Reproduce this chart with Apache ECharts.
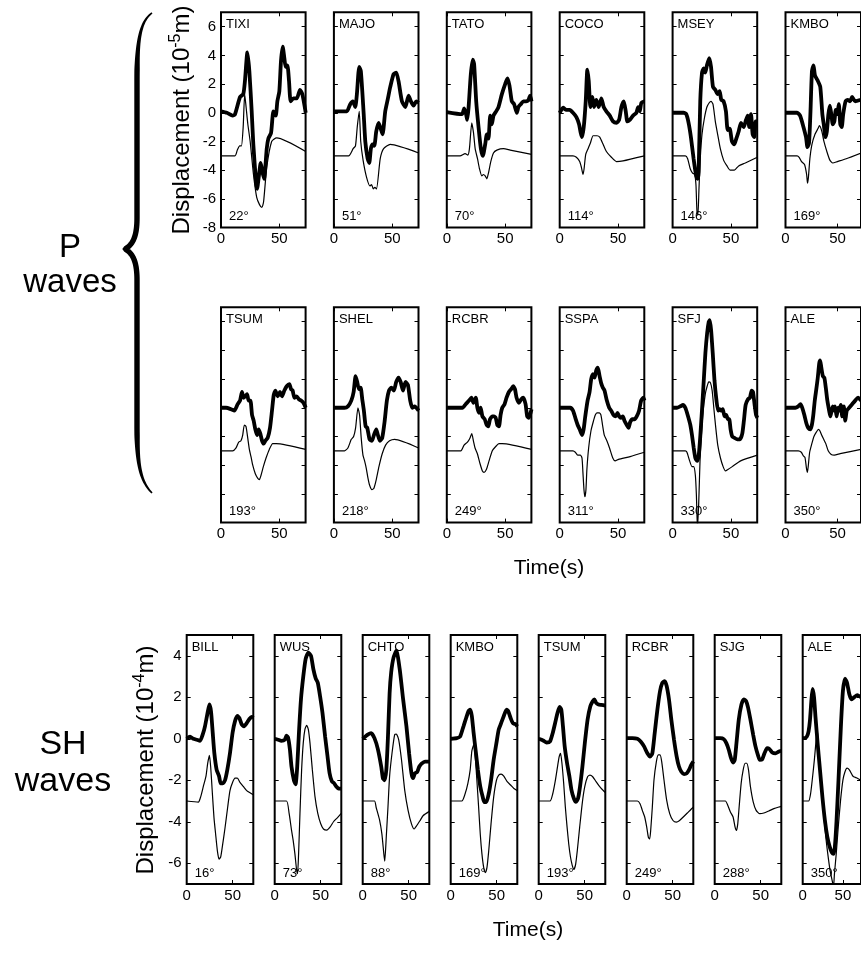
<!DOCTYPE html>
<html><head><meta charset="utf-8">
<script src="https://cdn.jsdelivr.net/npm/echarts@6/dist/echarts.min.js"></script>
<style>html,body{margin:0;padding:0;background:#fff}#c{width:861px;height:958px}</style>
</head><body><div id="c"></div>
<script>
// ---------------- DATA ----------------
const pStations = ['TIXI','MAJO','TATO','COCO','MSEY','KMBO','TSUM','SHEL','RCBR','SSPA','SFJ','ALE'];
const pAzimuths = [22,51,70,114,146,169,193,218,249,311,330,350];
const shStations = ['BILL','WUS','CHTO','KMBO','TSUM','RCBR','SJG','ALE'];
const shAzimuths = [16,73,88,169,193,249,288,350];
const pYTicks = [-8,-6,-4,-2,0,2,4,6];
const shYTicks = [-6,-4,-2,0,2,4];
const xTicks = [0,50];

// P waves: observed (thick) and synthetic (thin), [time s, displacement 1e-5 m]
const pTIXI_obs = [[0,0.1],[5,0],[10,-0.2],[12,-0.1],[16.3,1.1],[19.1,1.3],[20.5,2.2],[22.6,4.2],[24.3,2.9],[26.3,0.1],[27.7,-2.2],[30,-4.8],[30.9,-5.3],[32.6,-4.3],[34,-3.5],[35.4,-4.1],[36.9,-4.6],[39.2,-2.5],[40.6,-1.8],[42.9,-1.4],[44.9,0.1],[46.9,-0.2],[48.3,0.8],[50,1.5],[51.4,3.6],[52.9,4.6],[54.3,3.8],[55.4,3.2],[56.9,3.3],[58.3,2.2],[59.7,0.8],[62,1.0],[64.9,1.0],[67.7,1.6],[69.7,1.3],[72.6,0]];
const pTIXI_syn = [[0,-3],[12,-3],[14,-2.6],[16,-2.3],[17.5,-2.3],[19,-1.0],[20.3,1.3],[21.5,0.4],[23,-0.8],[25,-2],[27.7,-4.2],[30.6,-5.9],[33,-6.4],[35,-6.6],[36.5,-6.2],[39.2,-3.8],[43.4,-2.0],[47.7,-1.75],[72.6,-2.7]];
const pMAJO_obs = [[0,0.1],[11,0.1],[14,0.6],[16.3,0.8],[18.3,0.4],[19.7,1.3],[21.7,3.2],[23.1,2.9],[25.4,0.1],[26.9,-2.0],[28.9,-3.2],[30.3,-3.5],[31.7,-2.5],[33.2,-2.2],[34.6,-2.3],[36.3,-1.3],[38.3,-0.7],[39.7,-1.0],[41.7,-1.5],[44,0.1],[46.3,1.0],[48.3,1.8],[51.2,2.7],[53.4,2.8],[55.4,2.2],[58.3,0.8],[61.2,0.4],[64,1.2],[66,0.8],[68.3,0.5],[70.6,0.8],[72.6,0.7]];
const pMAJO_syn = [[0,-3],[12.6,-3],[16.5,-2.5],[18.5,-2.3],[20,-1.0],[21.7,0.1],[23,-2.0],[25,-3.3],[28,-4.5],[30.9,-5.1],[32.3,-5.0],[33.7,-5.3],[35.1,-5.2],[36.5,-5.3],[39.7,-3.2],[42.6,-2.5],[48.3,-2.2],[72.6,-2.8]];
const pTATO_obs = [[0,0.05],[12.9,-0.1],[14.9,0.3],[16.5,-0.1],[17.5,-0.5],[18.6,0.3],[20.6,2.7],[22.3,3.7],[23.4,3.4],[25.2,0.8],[27.2,-1.0],[29.2,-2.5],[30.9,-3.0],[32.9,-2.2],[34.3,-1.5],[35.7,-1.8],[37.2,-0.2],[38.6,-0.8],[40,-0.2],[42.3,0.1],[44.3,0.4],[47.2,1.3],[50,2.0],[52,2.4],[53.7,1.9],[55.7,0.8],[57.7,0.6],[60,0],[61.4,0.4],[63.4,0.6],[65.7,0.8],[68,0.8],[70,0.9],[71.4,1.2],[72.6,0.8]];
const pTATO_syn = [[0,-3],[11.4,-3],[15.7,-2.85],[18,-2.95],[19.4,-2.5],[21.4,-0.7],[22.9,-1.4],[24.3,-2.5],[26.3,-3.2],[28,-3.9],[30,-4.4],[31.4,-4.3],[32.9,-4.4],[34.3,-4.6],[35.7,-4.2],[37.7,-3.4],[40,-2.8],[42.9,-2.6],[48.6,-2.5],[54.3,-2.6],[72.6,-2.9]];
const pCOCO_obs = [[0,0],[2.9,0.35],[5.7,0.2],[8.6,0.2],[11.4,0],[14.3,-0.3],[16.6,-0.8],[18,-1.4],[19.1,-1.7],[20.6,-1.0],[22.3,0.8],[23.7,3.0],[24.9,2.2],[26.3,0.4],[28,1.1],[29.4,0.4],[31.4,0.9],[33.4,0.4],[35.7,1.0],[37.7,0.4],[40,0.1],[42.9,-0.2],[45.7,-0.6],[48.6,-0.7],[50.9,-0.5],[52.9,0.4],[54.9,0.8],[56.6,0.1],[58,-0.6],[60,-0.5],[62.9,-0.2],[65.7,0],[67.2,0.4],[68.6,0.1],[70,0.7],[72.6,0.8]];
const pCOCO_syn = [[0,-3],[11.4,-3],[14.3,-3.1],[17.1,-3.4],[18.6,-3.8],[20,-4.3],[20.9,-3.9],[22.3,-2.9],[24.3,-2.5],[26.3,-2.1],[28.6,-1.6],[30,-1.6],[32,-1.6],[34.3,-1.7],[37.2,-2.2],[40,-2.7],[44.3,-3.1],[48.6,-3.4],[54.3,-3.35],[72.6,-3.0]];
const pMSEY_obs = [[0,0],[9.4,0],[11.7,-0.1],[13.7,-0.7],[15.7,-1.7],[18,-3.2],[20,-4.3],[21.4,-4.6],[22.3,-4.1],[23.7,0.8],[25.2,2.8],[26.6,3.1],[28,2.8],[29.4,3.3],[31.4,3.8],[32.9,3.2],[34.6,1.8],[36.6,1.6],[38.6,1.3],[40.3,1.5],[41.7,0.9],[43.7,0.8],[45.7,0.1],[47.2,-1.2],[48.9,-1.1],[50.9,-2.0],[52.9,-2.2],[54.6,-1.8],[56.6,-1.3],[58.6,-0.7],[60.9,-1.0],[62.9,-0.5],[64.3,-0.2],[65.7,-1.0],[67.2,-0.1],[68.6,-1.5],[70,-1.7],[71.2,-0.6],[72.6,-0.6]];
const pMSEY_syn = [[0,-3],[10.9,-3],[12.9,-3.2],[15.1,-3.9],[17.1,-4.2],[18.9,-4.3],[20,-5.0],[20.9,-6.9],[21.7,-7.1],[22.6,-5.3],[23.7,-3.2],[25.2,-1.5],[27.2,-0.4],[29.4,0.4],[31.4,0.7],[32.9,0.8],[34.6,0.6],[36.6,-0.6],[38.6,-1.5],[40.9,-2.5],[43.7,-3.3],[46.6,-3.7],[49.4,-4.0],[52.9,-4.0],[56.6,-3.7],[62.3,-3.5],[72.6,-3.1]];
const pKMBO_obs = [[0,0],[11.1,0],[14,-0.2],[16.9,-0.9],[19.7,-1.7],[21.1,-2.4],[22.6,-2.1],[24,0.1],[25.4,2.9],[26.9,3.3],[28.3,2.6],[31.2,2.2],[33.4,1.8],[35.4,-0.1],[36.9,-0.9],[38.3,-1.7],[39.7,-1.3],[41.2,-0.1],[42.6,0.5],[44,-0.1],[45.4,-0.8],[46.9,-0.6],[48.3,0.2],[49.7,-0.1],[51.2,0.6],[52.6,-0.8],[54,-1.0],[55.4,-0.1],[57.7,0.8],[59.7,0.9],[62,0.8],[64,1.1],[66.9,0.8],[72.6,0.9]];
const pKMBO_syn = [[0,-3],[11.1,-3],[13.1,-3.1],[15.4,-3.4],[18.3,-3.6],[20.3,-4.3],[21.1,-4.9],[22,-4.5],[23.4,-3.2],[25.4,-2.2],[28.3,-1.5],[31.2,-1.1],[32.6,-0.9],[34.9,-1.3],[36.9,-2.0],[39.7,-2.7],[42.6,-3.3],[45.4,-3.5],[49.7,-3.4],[58.3,-3.2],[72.6,-2.8]];
const pTSUM_obs = [[0,0],[4.3,0],[8.6,-0.1],[11.4,-0.2],[14.3,0.25],[16.3,0.5],[18,1.1],[19.4,0.7],[20.9,0.8],[22.3,0.95],[23.7,0.5],[25.2,0.5],[26.6,-0.5],[28,-0.9],[29.4,-1.5],[30.9,-1.9],[32.3,-1.5],[33.7,-1.8],[35.2,-2.3],[36.6,-2.5],[38,-2.3],[40,-2.1],[42,-1.4],[43.7,-0.2],[45.2,0.9],[46.6,1.2],[48.6,0.8],[50.6,1.1],[52.3,0.8],[54.3,1.2],[56.3,1.5],[58.6,1.65],[60,1.3],[61.4,1.2],[62.9,0.7],[64.9,0.8],[66.6,0.6],[68.6,0.5],[70.6,0.35],[72.6,0]];
const pTSUM_syn = [[0,-3],[10,-3],[12.9,-2.8],[15.1,-2.4],[17.1,-2.3],[18.6,-1.9],[20,-1.2],[21.4,-1.3],[22.9,-2.1],[24.3,-2.9],[25.7,-3.4],[27.2,-4.0],[29.4,-4.6],[31.4,-4.9],[32.9,-5.0],[34.3,-4.7],[36.3,-4.1],[38.6,-3.5],[41.4,-2.9],[44.3,-2.5],[47.2,-2.5],[72.6,-2.9]];
const pSHEL_obs = [[0,0],[4.9,0],[9.1,0],[12,0.1],[14.9,0.5],[16.9,1.1],[18.6,2.2],[20,1.8],[21.4,1.3],[22.9,1.4],[24.3,0.6],[25.7,-0.2],[27.2,-1.3],[28.6,-1.4],[30.6,-2.2],[32.6,-2.3],[34.3,-1.9],[36.3,-1.5],[37.7,-1.9],[39.4,-2.3],[41.4,-2.1],[43.4,-1.0],[45.4,0.5],[47.2,1.2],[49.2,1.4],[51.4,1.2],[53.4,1.8],[55.4,2.1],[57.2,1.8],[59.2,1.2],[61.4,1.8],[63.4,1.6],[65.4,0.5],[67.2,0],[69.2,0.1],[72.6,-0.2]];
const pSHEL_syn = [[0,-3],[9.1,-3],[12,-2.8],[14.9,-2.2],[16.9,-2.0],[18.6,-1.4],[20.6,0],[22,-0.5],[23.4,-2.1],[24.9,-3.3],[26.3,-3.7],[27.7,-4.2],[29.2,-4.9],[30.6,-5.4],[32.6,-5.7],[34.3,-5.6],[36.3,-5.0],[38.6,-4.1],[41.4,-3.2],[44.3,-2.6],[47.7,-2.3],[52,-2.2],[72.6,-2.8]];
const pRCBR_obs = [[0,0],[13.4,0],[16.2,0.25],[19.1,0.5],[21.1,0.7],[22.8,0.35],[24.8,0.7],[26.2,0],[27.6,-0.35],[29,0],[30.5,-0.6],[32.5,-0.8],[34.2,-1.2],[35.6,-1.3],[37,-0.8],[39,-0.6],[40.4,-0.6],[41.9,-0.7],[43.3,-1.2],[44.7,-1.3],[46.1,-0.5],[47.5,0],[49.5,0.25],[51.2,0.7],[53.2,1.1],[55.2,1.3],[56.9,1.5],[58.4,1.3],[59.8,0.7],[61.8,0.35],[63.8,0.6],[65.5,0.7],[67.5,0.25],[68.9,-0.6],[70.3,-0.7],[72.6,-0.1]];
const pRCBR_syn = [[0,-3],[12,-3],[14.8,-2.6],[17.7,-2.4],[19.9,-2.1],[21.4,-1.8],[22.8,-2.3],[24.2,-2.8],[26.2,-3.2],[28.5,-3.9],[30.5,-4.4],[31.9,-4.5],[33.9,-4.3],[36.2,-3.7],[39,-3.0],[41.9,-2.7],[44.7,-2.5],[47.5,-2.5],[72.6,-2.9]];
const pSSPA_obs = [[0,0],[9.1,0],[11.4,-0.2],[13.4,-0.7],[15.4,-1.2],[17.1,-1.5],[19.1,-1.9],[20.5,-1.5],[21.9,-0.6],[23.9,0.5],[25.6,1.1],[27,2.0],[28.5,2.35],[29.9,2.1],[31.3,2.6],[32.7,2.8],[34.2,2.2],[35.6,1.7],[37,1.4],[38.4,1.2],[40.4,0.5],[42.4,0],[44.1,-0.2],[46.1,-0.5],[48.1,-0.6],[49.5,-0.35],[51,-0.6],[52.4,-0.7],[54.1,-0.6],[55.5,-0.9],[57.5,-1.2],[59,-1.4],[60.4,-1.0],[62.3,-0.8],[64.1,-0.8],[66,-0.6],[68,-0.2],[69.8,0.5],[71.7,0.7],[72.6,0.5]];
const pSSPA_syn = [[0,-3],[11.4,-3],[13.4,-3.1],[15.4,-3.3],[17.7,-3.3],[19.1,-3.5],[19.9,-4.5],[20.8,-5.7],[21.6,-6.2],[22.5,-5.7],[23.3,-4.3],[24.8,-2.8],[26.8,-1.6],[29,-0.9],[30.5,-0.5],[31.9,-0.35],[33.9,-0.35],[35.3,-0.5],[36.7,-1.2],[38.2,-1.9],[40.4,-2.3],[42.7,-2.8],[45.5,-3.5],[47.5,-3.7],[50.4,-3.6],[60.4,-3.4],[72.6,-3.1]];
const pSFJ_obs = [[0,0],[3.7,0],[6.6,0.1],[8.9,0.2],[10.9,0],[12.9,-0.5],[15.2,-1.2],[16.6,-1.9],[18.1,-2.8],[19.5,-3.5],[21,-3.7],[22.4,-3.3],[23.8,-1.9],[25.3,0],[26.7,1.9],[28.1,3.8],[29.6,5.2],[31,6.0],[31.9,6.1],[33,5.4],[34.4,3.8],[35.9,1.9],[37.6,0.5],[39,-0.2],[40.2,-0.1],[41.6,-0.2],[43,-0.1],[44.5,-0.6],[45.9,-0.5],[47.4,-0.8],[48.5,-0.8],[49.7,-1.5],[51.1,-2.0],[53.1,-2.1],[55.4,-2.2],[57.7,-2.2],[59.7,-1.8],[61.1,-0.9],[62.6,0.2],[64.6,0.6],[66.3,0.7],[67.7,1.2],[68.9,1.1],[70.3,0.2],[71.5,-0.5],[72.6,-0.7]];
const pSFJ_syn = [[0,-3],[10.9,-3],[12.3,-3.1],[14.6,-3.7],[16.6,-4.1],[18,-4.1],[19.5,-4.7],[20.4,-6.1],[21.3,-8.4],[22.4,-6.6],[23.5,-3.7],[24.7,-1.9],[26.1,-0.3],[28.1,1.0],[29.6,1.5],[31,1.8],[32.4,1.75],[33.9,1.2],[35.3,0],[37,-1.4],[38.7,-2.6],[41,-3.5],[43.3,-4.1],[45.3,-4.4],[47.4,-4.3],[51.1,-4.1],[58.3,-3.7],[72.6,-3.3]];
const pALE_obs = [[0,0],[9.5,0],[12.3,0.1],[14.4,0.25],[16.1,0],[18.1,-0.5],[20.1,-1.1],[21.8,-1.4],[23.8,-1.5],[25.3,-1.2],[26.7,-0.5],[28.1,0.5],[29.6,1.3],[31,2.1],[32.4,3.1],[33.3,3.3],[34.4,2.8],[35.9,2.2],[37.3,2.1],[38.7,1.4],[40.2,0.5],[41.9,-0.2],[43.1,-0.6],[45.3,0.1],[46.8,-0.2],[47.6,0.1],[49.1,-0.6],[50.5,0],[51.9,-0.2],[53.1,0.2],[54.5,-0.6],[56,0.1],[57.4,-0.9],[58.8,-0.2],[61.1,0],[64,0.25],[66.9,0.5],[69.7,0.7],[72.6,0.5]];
const pALE_syn = [[0,-3],[12.3,-3],[15.2,-3.1],[17.2,-3.35],[18.7,-3.45],[20.1,-4.2],[21,-4.5],[21.8,-4.1],[23.2,-3.1],[25.3,-2.5],[27.3,-2.0],[29.6,-1.7],[31.6,-1.5],[33,-1.6],[34.7,-1.9],[36.7,-2.2],[38.7,-2.5],[41,-3.0],[43.9,-3.25],[46.8,-3.3],[52.5,-3.2],[72.6,-2.9]];

// SH waves: [time s, displacement 1e-4 m]
const shBILL_obs = [[0,0],[3.6,0.1],[7.3,0],[10.9,-0.05],[14.5,-0.1],[17.4,0.2],[19.9,0.6],[22.5,1.2],[24.7,1.65],[26.5,1.3],[28.3,0.3],[30.1,-0.7],[32.6,-1.5],[35.2,-1.8],[37,-2.15],[39.2,-2.15],[41.7,-2.0],[44.2,-1.5],[47.1,-0.7],[50,0.3],[52.6,0.85],[55.1,1.1],[57.3,1.0],[59.8,0.7],[62.4,0.6],[65.3,0.75],[68.2,0.95],[70.7,1.05],[72.5,1.0]];
const shBILL_syn = [[0,-3],[12.7,-3.05],[15.2,-2.8],[18.1,-2.3],[21,-1.8],[22.8,-1.2],[24.7,-0.8],[26.1,-1.35],[27.9,-2.6],[29.7,-3.8],[31.5,-4.6],[33.4,-5.4],[35.2,-5.8],[37,-5.7],[38.8,-5.2],[41.7,-4.3],[44.6,-3.3],[47.1,-2.5],[50,-2.1],[52.6,-1.9],[55.1,-1.9],[58,-2.1],[61.6,-2.3],[65.3,-2.5],[68.9,-2.6],[72.5,-2.7]];
const shWUS_obs = [[0,0],[3.7,-0.05],[7.3,-0.1],[11,-0.05],[12.8,0.15],[14.6,0.05],[16.5,-0.5],[18.3,-1.35],[20.9,-2.0],[22.7,-2.2],[24.5,-1.35],[26.4,0.3],[28.6,1.9],[31.1,3.0],[33.7,3.85],[36.6,4.15],[39.5,4.0],[42.1,3.35],[44.7,2.9],[46.9,2.7],[49.4,2.05],[52,1.25],[54.9,0.1],[57.5,-0.85],[59.7,-1.65],[62.2,-2.05],[64.8,-2.15],[67,-2.3],[69.5,-2.4],[72.5,-2.4]];
const shWUS_syn = [[0,-3],[12.8,-3],[15.7,-3.6],[18.3,-4.4],[20.1,-4.9],[22,-5.55],[23.8,-6.3],[24.9,-6.5],[26,-5.55],[27.5,-3.6],[29.3,-1.5],[31.1,-0.2],[32.9,0.45],[34.8,0.65],[36.6,0.45],[38.4,-0.2],[41,-1.5],[43.9,-2.8],[46.9,-3.6],[50.1,-4.1],[53.1,-4.35],[56.7,-4.4],[60.4,-4.25],[64,-4.0],[68.4,-3.8],[72.5,-3.6]];
const shCHTO_obs = [[0,0],[5.5,0.2],[9.2,0.27],[12.8,0.03],[16.5,-0.5],[20.2,-1.35],[22,-1.9],[23.8,-2.0],[25.7,-1.5],[27.5,0.1],[29.3,2.2],[31,3.2],[33.5,3.9],[36.7,4.24],[40.3,3.35],[44,1.9],[47.6,0.6],[50.5,-0.7],[53.1,-1.67],[54.9,-1.9],[56.8,-1.67],[59.3,-1.6],[61.5,-1.35],[64.1,-1.2],[67.8,-1.1],[72.5,-1.1]];
const shCHTO_syn = [[0,-3],[12.8,-3],[14.6,-3.3],[18.3,-3.9],[20.9,-4.6],[23,-5.55],[24,-5.9],[25.7,-4.7],[27.5,-3.3],[29.3,-1.8],[31.9,-0.7],[34.8,0.2],[36.7,0.22],[39.2,-0.05],[42.2,-1.0],[45.8,-2.5],[49.4,-3.45],[53.1,-4.1],[56,-4.35],[58.6,-4.2],[62.3,-3.95],[65.9,-3.7],[72.5,-3.5]];
const shKMBO_obs = [[0,0],[6.6,0.03],[10.2,0.1],[13.9,0.6],[16.8,1.0],[19.4,1.33],[21.2,1.4],[23,1.1],[24.9,0.3],[27.5,-0.7],[29.6,-1.5],[32.2,-2.3],[34.8,-2.8],[36.6,-3.05],[38.8,-3.05],[41.4,-2.65],[43.9,-2.0],[46.8,-1.0],[49.8,-0.2],[52.3,0.45],[54.9,0.75],[57.8,1.1],[60.8,1.4],[62.6,1.33],[65.2,1.0],[67.7,0.75],[70.6,0.7],[72.5,0.6]];
const shKMBO_syn = [[0,-3],[12.1,-3],[15.7,-2.65],[18.7,-2.15],[21.2,-1.5],[23,-0.6],[24.9,-0.3],[26.7,-0.85],[28.5,-2.0],[30.4,-3.3],[32.2,-4.6],[34,-5.55],[35.9,-6.2],[37.7,-6.45],[39.5,-6.2],[41.4,-5.4],[43.9,-4.1],[46.8,-2.8],[49.8,-2.0],[52.3,-1.75],[54.9,-1.7],[57.8,-1.8],[61.5,-2.07],[65.2,-2.23],[68.8,-2.4],[72.5,-2.5]];
const shTSUM_obs = [[0,0],[4.8,-0.08],[8.6,-0.18],[12.3,-0.13],[15.3,0.28],[17.9,0.76],[20.5,1.25],[22.7,1.54],[24.6,1.4],[26.4,0.6],[28.3,-0.37],[30.9,-1.18],[33.5,-1.83],[35.7,-2.48],[38.3,-2.88],[40.5,-3.04],[42.8,-2.88],[45,-2.3],[47.6,-1.34],[50.2,-0.21],[53.2,0.92],[56.2,1.57],[58.8,1.81],[60.6,1.9],[62.5,1.73],[65.1,1.65],[68.1,1.63],[72.5,1.6]];
const shTSUM_syn = [[0,-3],[12.3,-3],[15.3,-2.65],[17.9,-2.07],[20.5,-1.34],[22.3,-0.86],[23.8,-0.7],[25.3,-1.18],[27.2,-2.15],[29,-3.29],[30.9,-4.26],[32.7,-5.07],[34.6,-5.7],[36.5,-6.1],[38.3,-6.3],[40.2,-6.05],[42,-5.4],[44.6,-4.26],[47.6,-3.04],[50.2,-2.3],[53.2,-1.83],[55.8,-1.75],[58.8,-1.83],[62.5,-2.07],[66.2,-2.3],[69.9,-2.48],[72.5,-2.6]];
const shRCBR_obs = [[0,0.03],[6.2,0.03],[11.6,0],[15.2,-0.13],[18.9,-0.37],[22.5,-0.7],[25.4,-0.86],[27.9,-0.7],[30.5,0.28],[33.4,1.4],[36.3,2.3],[38.8,2.7],[41.3,2.78],[43.5,2.54],[46,1.9],[48.6,0.92],[51.5,-0.05],[54.4,-0.86],[56.9,-1.34],[59.5,-1.59],[62.4,-1.7],[65.3,-1.67],[67.8,-1.5],[70.3,-1.26],[72.5,-1.1]];
const shRCBR_syn = [[0,-3],[11.6,-3],[14.5,-3.13],[17,-3.45],[19.6,-3.77],[21.8,-4.26],[23.6,-4.75],[25,-4.83],[26.1,-4.42],[27.9,-3.29],[29.7,-1.99],[32.3,-1.1],[34.4,-0.78],[36.3,-0.78],[38.1,-1.1],[40.6,-1.99],[43.5,-2.96],[46.8,-3.61],[50.4,-3.94],[54,-4.02],[57.6,-3.94],[61.6,-3.77],[66,-3.58],[69.6,-3.42],[72.5,-3.3]];
const shSJG_obs = [[0,0.03],[6.2,0.03],[9.8,-0.02],[12.7,-0.21],[15.3,-0.53],[17.8,-0.94],[20,-1.15],[21.8,-1.02],[23.7,-0.21],[26.2,0.92],[29.1,1.65],[31.7,1.9],[34.2,1.81],[36.4,1.49],[38.9,0.92],[41.9,0.19],[44.4,-0.37],[47,-0.78],[49.1,-1.02],[51.7,-0.99],[54.2,-0.7],[57.1,-0.45],[59.7,-0.5],[62.6,-0.66],[66.2,-0.7],[69.9,-0.62],[72.5,-0.58]];
const shSJG_syn = [[0,-3],[11.6,-3],[14.2,-3.2],[17.1,-3.53],[20,-3.77],[22.2,-4.26],[23.7,-4.42],[25.1,-4.1],[26.6,-3.29],[28.8,-2.15],[31,-1.5],[33.1,-1.18],[34.9,-1.18],[36.8,-1.5],[38.9,-2.31],[41.9,-3.04],[45.1,-3.45],[49.1,-3.61],[53.5,-3.58],[58.9,-3.48],[64.4,-3.37],[69.9,-3.29],[72.5,-3.26]];
const shALE_obs = [[0,0.03],[2.5,0.03],[5.1,0.1],[7.3,0.36],[9.1,0.92],[10.9,1.9],[12.3,2.4],[14.1,2.0],[16,1.0],[18.5,-0.2],[21.5,-1.5],[24.5,-2.8],[27.5,-3.9],[30.5,-4.7],[33.5,-5.2],[36.5,-5.5],[38.5,-5.55],[40,-5.2],[42,-4.0],[44.5,-2.0],[47.5,0.6],[50,2.3],[52.6,2.9],[55.1,2.7],[58,2.14],[60.6,1.9],[63.4,1.98],[68,2.1],[72.5,2.0]];
const shALE_syn = [[0,-3],[7.3,-3],[9.8,-2.65],[12.3,-1.83],[14.5,-1.02],[16.7,-0.05],[18.1,0.44],[19.9,-0.53],[22.5,-1.83],[25.4,-3.29],[28.3,-4.58],[31.2,-5.55],[34.1,-6.36],[37,-6.9],[38.2,-7.2],[39.5,-6.5],[41.7,-5.55],[44.2,-4.26],[47.1,-2.96],[50,-1.99],[52.6,-1.59],[55.1,-1.42],[58,-1.5],[61.6,-1.75],[63.4,-1.83],[68,-1.9],[72.5,-2.0]];

const pObs = [pTIXI_obs,pMAJO_obs,pTATO_obs,pCOCO_obs,pMSEY_obs,pKMBO_obs,pTSUM_obs,pSHEL_obs,pRCBR_obs,pSSPA_obs,pSFJ_obs,pALE_obs];
const pSyn = [pTIXI_syn,pMAJO_syn,pTATO_syn,pCOCO_syn,pMSEY_syn,pKMBO_syn,pTSUM_syn,pSHEL_syn,pRCBR_syn,pSSPA_syn,pSFJ_syn,pALE_syn];
const shObs = [shBILL_obs,shWUS_obs,shCHTO_obs,shKMBO_obs,shTSUM_obs,shRCBR_obs,shSJG_obs,shALE_obs];
const shSyn = [shBILL_syn,shWUS_syn,shCHTO_syn,shKMBO_syn,shTSUM_syn,shRCBR_syn,shSJG_syn,shALE_syn];

// ---------------- LAYOUT / STYLE ----------------
const FONT = '"Liberation Sans", Arial, Helvetica, sans-serif';
const X_MAX = 72.5;
const P_RANGE = [-8, 7], SH_RANGE = [-7, 5];
const P_LEFT0 = 221, P_STEP = 112.9, P_W = 84.6, P_H = 215.3, P_TOPS = [12.3, 307.3];
const SH_LEFT0 = 186.7, SH_STEP = 88, SH_W = 66.6, SH_TOP = 635, SH_H = 249;

const grids = [], xAxes = [], yAxes = [], series = [], graphics = [];

function xAxisDef(g, pos, labels) {
  return {type:'value', gridIndex:g, position:pos, min:0, max:X_MAX,
    axisLine:{show:false, onZero:false}, splitLine:{show:false},
    axisTick:{show:true, inside:true, length:4, customValues:xTicks, lineStyle:{color:'#000', width:1}},
    axisLabel:{show:labels, customValues:xTicks, margin:4, color:'#000', fontSize:15, fontFamily:FONT}};
}
function yAxisDef(g, pos, labels, range, ticks) {
  return {type:'value', gridIndex:g, position:pos, min:range[0], max:range[1],
    axisLine:{show:false, onZero:false}, splitLine:{show:false},
    axisTick:{show:true, inside:true, length:4, customValues:ticks, lineStyle:{color:'#000', width:1}},
    axisLabel:{show:labels, customValues:ticks, margin:5, color:'#000', fontSize:15, fontFamily:FONT}};
}
function addPanel(l, t, w, h, range, ticks, showY, obs, syn, name, az) {
  const g = grids.length;
  grids.push({left:l, top:t, width:w, height:h, show:true, borderColor:'#000', borderWidth:2, backgroundColor:'rgba(0,0,0,0)'});
  const xi = xAxes.length, yi = yAxes.length;
  xAxes.push(xAxisDef(g,'bottom',true), xAxisDef(g,'top',false));
  yAxes.push(yAxisDef(g,'left',showY,range,ticks), yAxisDef(g,'right',false,range,ticks));
  series.push({type:'line', xAxisIndex:xi, yAxisIndex:yi, data:syn, symbol:'none', smooth:0.2, clip:true, silent:true,
    lineStyle:{color:'#000', width:1.2}});
  series.push({type:'line', xAxisIndex:xi, yAxisIndex:yi, data:obs, symbol:'none', smooth:0.2, clip:true, silent:true,
    lineStyle:{color:'#000', width:3.8}, z:3});
  graphics.push({type:'text', x:l+5, y:t+12, silent:true, z:10,
    style:{text:name, fill:'#000', fontSize:13, fontFamily:FONT, align:'left', verticalAlign:'middle'}});
  graphics.push({type:'text', x:l+8, y:t+h-11, silent:true, z:10,
    style:{text:az + '°', fill:'#000', fontSize:13, fontFamily:FONT, align:'left', verticalAlign:'middle'}});
}

for (let i = 0; i < 12; i++) {
  const row = Math.floor(i / 6), col = i % 6;
  addPanel(P_LEFT0 + col*P_STEP, P_TOPS[row], P_W, P_H, P_RANGE, pYTicks, i === 0, pObs[i], pSyn[i], pStations[i], pAzimuths[i]);
}
for (let i = 0; i < 8; i++) {
  addPanel(SH_LEFT0 + i*SH_STEP, SH_TOP, SH_W, SH_H, SH_RANGE, shYTicks, i === 0, shObs[i], shSyn[i], shStations[i], shAzimuths[i]);
}

// axis titles
function yTitle(x, y, exp) {
  return {type:'text', x:x, y:y, rotation:Math.PI/2, silent:true,
    style:{text:'{a|Displacement (10}{s|' + exp + '}{a|m)}', align:'center', verticalAlign:'middle',
      rich:{a:{fontSize:24, fontFamily:FONT, fill:'#000', lineHeight:28, verticalAlign:'middle'},
            s:{fontSize:16, fontFamily:FONT, fill:'#000', lineHeight:12, verticalAlign:'top'}}}};
}
graphics.push(yTitle(182, 120, '-5'));
graphics.push(yTitle(146, 760, '-4'));
function label(x, y, text, size) {
  return {type:'text', x:x, y:y, silent:true,
    style:{text:text, fill:'#000', fontSize:size, fontFamily:FONT, align:'center', verticalAlign:'middle'}};
}
graphics.push(label(549, 568, 'Time(s)', 21));
graphics.push(label(528, 930, 'Time(s)', 21));
graphics.push(label(70, 248, 'P', 33));
graphics.push(label(70, 283, 'waves', 33));
graphics.push(label(63, 745, 'SH', 34));
graphics.push(label(63, 782, 'waves', 34));

// curly brace (tapered) for P waves
(function () {
  const segs = [
    [[152,13],[139,22],[137,45],[137,80]],
    [[137,80],[137,126],[137,172],[137,218]],
    [[137,218],[137,238],[132,245],[125,249]],
    [[125,249],[132,253],[137,260],[137,280]],
    [[137,280],[137,328],[137,376],[137,425]],
    [[137,425],[137,460],[139,480],[152,493]]
  ];
  const pts = [];
  segs.forEach((s, k) => {
    for (let j = (k === 0 ? 0 : 1); j <= 30; j++) {
      const t = j / 30, u = 1 - t;
      pts.push([u*u*u*s[0][0] + 3*u*u*t*s[1][0] + 3*u*t*t*s[2][0] + t*t*t*s[3][0],
                u*u*u*s[0][1] + 3*u*u*t*s[1][1] + 3*u*t*t*s[2][1] + t*t*t*s[3][1]]);
    }
  });
  const cum = [0];
  for (let i = 1; i < pts.length; i++) cum.push(cum[i-1] + Math.hypot(pts[i][0]-pts[i-1][0], pts[i][1]-pts[i-1][1]));
  const L = cum[cum.length-1];
  const left = [], right = [];
  for (let i = 0; i < pts.length; i++) {
    const a = pts[Math.max(0,i-1)], b = pts[Math.min(pts.length-1,i+1)];
    let dx = b[0]-a[0], dy = b[1]-a[1]; const n = Math.hypot(dx,dy) || 1; dx/=n; dy/=n;
    const w = 0.8 + 1.9*Math.min(1, cum[i]/60, (L-cum[i])/60);
    left.push([pts[i][0] - dy*w, pts[i][1] + dx*w]);
    right.push([pts[i][0] + dy*w, pts[i][1] - dx*w]);
  }
  graphics.push({type:'polygon', silent:true, shape:{points:left.concat(right.reverse())}, style:{fill:'#000'}});
})();

const chart = echarts.init(document.getElementById('c'), null, {renderer:'canvas'});
chart.setOption({
  animation:false,
  backgroundColor:'#fff',
  grid:grids, xAxis:xAxes, yAxis:yAxes, series:series,
  graphic:{elements:graphics}
});
</script></body></html>
